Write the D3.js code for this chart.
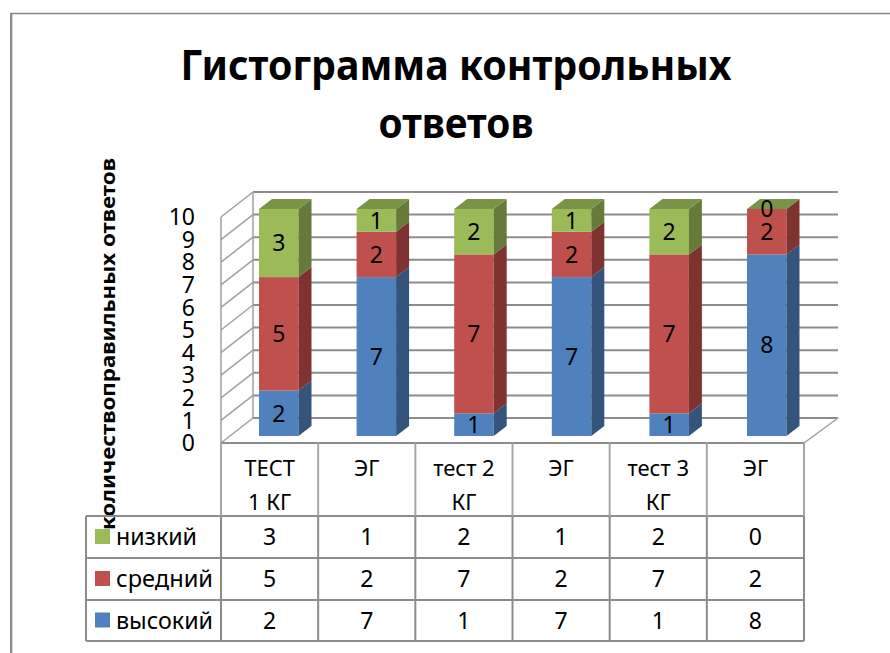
<!DOCTYPE html>
<html>
<head>
<meta charset="utf-8">
<script src="https://cdn.jsdelivr.net/npm/d3@7"></script>
<style>
  body { margin: 0; background: #fff; }
  text { font-family: "Noto Sans", sans-serif; fill: #000; }
</style>
</head>
<body>
<div id="chart"></div>
<script>
// data
var categories = ["ТЕСТ 1 КГ", "ЭГ", "тест 2 КГ", "ЭГ", "тест 3 КГ", "ЭГ"];
var categoryLines = [["ТЕСТ", "1  КГ"], ["ЭГ"], ["тест 2", "КГ"], ["ЭГ"], ["тест 3", "КГ"], ["ЭГ"]];
var seriesNames = ["высокий", "средний", "низкий"];
var vysokiy = [2, 7, 1, 7, 1, 8];
var sredniy = [5, 2, 7, 2, 7, 2];
var nizkiy = [3, 1, 2, 1, 2, 0];
var yTicks = [0, 1, 2, 3, 4, 5, 6, 7, 8, 9, 10];
var titleLines = ["Гистограмма контрольных", "ответов"];
var axisTitle = "количествоправильных ответов";

var seriesValues = [vysokiy, sredniy, nizkiy];
var colors = ["#4f81bd", "#c0504d", "#9bbb59"];
var sideColors = ["#34547c", "#7e3331", "#667b3a"];
var topColors = ["#3f6797", "#99403d", "#7a9447"];

var width = 890, height = 653;
var svg = d3.select("#chart").append("svg")
  .attr("width", width)
  .attr("height", height)
  .style("display", "block");

// chart frame, the picture is cropped so only top and left edges show
svg.append("line")
  .attr("x1", 11).attr("x2", 890)
  .attr("y1", 13.5).attr("y2", 13.5)
  .attr("stroke", "#868686")
  .attr("stroke-width", 1.5);
svg.append("line")
  .attr("x1", 11.2).attr("x2", 11.2)
  .attr("y1", 13).attr("y2", 653)
  .attr("stroke", "#8e8e8e")
  .attr("stroke-width", 2.4);

// title
var titleLengths = [551, 155];
svg.selectAll(".title")
  .data(titleLines)
  .enter()
  .append("text")
  .attr("class", "title")
  .attr("x", 456)
  .attr("y", (d, i) => 80 + i * 58)
  .attr("text-anchor", "middle")
  .attr("textLength", (d, i) => titleLengths[i])
  .attr("lengthAdjust", "spacingAndGlyphs")
  .style("font-size", "41px")
  .style("font-weight", "bold")
  .text(d => d);

// scales
var x = d3.scaleBand().domain(d3.range(categories.length)).range([221, 804]);
var xBar = d3.scalePoint().domain(d3.range(categories.length)).range([259, 747]);
var yFront = d3.scaleLinear().domain([0, 10]).range([443, 217]);
var yBack = d3.scaleLinear().domain([0, 10]).range([418, 192]);
var yBar = d3.scaleLinear().domain([0, 10]).range([436, 209]);

var depthX = 32;   // wall offset
var barW = 39.5, barDx = 13, barDy = 10;

var gridColor = "#8c8c8c";

// back wall and side wall gridlines
var grid = svg.append("g");
grid.selectAll(".back")
  .data(yTicks)
  .enter()
  .append("line")
  .attr("x1", 221 + depthX)
  .attr("x2", 838)
  .attr("y1", d => yBack(d))
  .attr("y2", d => yBack(d))
  .attr("stroke", gridColor)
  .attr("stroke-width", 2);
grid.selectAll(".side")
  .data(yTicks)
  .enter()
  .append("line")
  .attr("x1", 221)
  .attr("x2", 221 + depthX)
  .attr("y1", d => yFront(d))
  .attr("y2", d => yBack(d))
  .attr("stroke", "#a0a0a0")
  .attr("stroke-width", 1.5);
grid.append("path")
  .attr("d", "M221," + yFront(0) + "V" + yFront(10) + "M" + (221 + depthX) + "," + yBack(0) + "V" + yBack(10)
    + "M804," + yFront(0) + "L838," + yBack(0))
  .attr("fill", "none")
  .attr("stroke", "#a0a0a0")
  .attr("stroke-width", 1.5);

// y tick labels
svg.selectAll(".ytick")
  .data(yTicks)
  .enter()
  .append("text")
  .attr("class", "ytick")
  .attr("x", 195)
  .attr("y", d => yFront(d))
  .attr("dy", "0.36em")
  .attr("text-anchor", "end")
  .style("font-size", "23px")
  .text(d => d);

// axis title
svg.append("text")
  .attr("transform", "translate(115,344)rotate(-90)")
  .attr("text-anchor", "middle")
  .style("font-size", "20px")
  .style("font-weight", "bold")
  .attr("textLength", 372)
  .attr("lengthAdjust", "spacingAndGlyphs")
  .text(axisTitle);

// stacked bars
var stackData = categories.map((c, i) => {
  var row = {};
  seriesNames.forEach((s, k) => { row[s] = seriesValues[k][i]; });
  return row;
});
var stacked = d3.stack().keys(seriesNames)(stackData);

// one pass per layer, bottom up, so the top faces overlap properly
stacked.forEach((layer, k) => {
  var g = svg.append("g");
  layer.forEach((d, i) => {
    var left = xBar(i), y0 = yBar(d[0]), y1 = yBar(d[1]);
    if (d[1] > d[0]) {
      g.append("rect")
        .attr("x", left).attr("y", y1)
        .attr("width", barW).attr("height", y0 - y1)
        .attr("fill", colors[k]);
      g.append("path")
        .attr("d", "M" + (left + barW) + "," + y0 + "l" + barDx + "," + (-barDy)
          + "V" + (y1 - barDy) + "l" + (-barDx) + "," + barDy + "Z")
        .attr("fill", sideColors[k]);
    }
    // top face only for the top of the stack; a zero segment still tints it
    if (k === seriesNames.length - 1) {
      g.append("path")
        .attr("d", "M" + left + "," + y1 + "l" + barDx + "," + (-barDy)
          + "h" + barW + "l" + (-barDx) + "," + barDy + "Z")
        .attr("fill", topColors[k]);
    }
  });
});

// value labels
stacked.forEach((layer, k) => {
  svg.selectAll(".val" + k)
    .data(layer)
    .enter()
    .append("text")
    .attr("x", (d, i) => xBar(i) + barW / 2)
    .attr("y", d => yBar((d[0] + d[1]) / 2))
    .attr("dy", "0.36em")
    .attr("text-anchor", "middle")
    .style("font-size", "23px")
    .text((d, i) => seriesValues[k][i]);
});

// data table
var rowLines = [516, 558, 600, 641];
var tableLeft = 86, tableRight = 804, tableTop = 443;
var table = svg.append("g")
  .attr("fill", "none")
  .attr("stroke", "#8c8c8c")
  .attr("stroke-width", 2);

table.append("line")
  .attr("x1", 221).attr("x2", tableRight)
  .attr("y1", tableTop).attr("y2", tableTop);
table.selectAll(".rowline")
  .data(rowLines)
  .enter()
  .append("line")
  .attr("x1", tableLeft).attr("x2", tableRight)
  .attr("y1", d => d).attr("y2", d => d);
// header part of the column lines is lighter than the body part
var colEdges = d3.range(categories.length).map(i => x(i)).concat([tableRight]);
table.selectAll(".colhead")
  .data(colEdges)
  .enter()
  .append("line")
  .attr("x1", d => d).attr("x2", d => d)
  .attr("y1", tableTop).attr("y2", rowLines[0])
  .attr("stroke", "#a6a6a6");
table.selectAll(".colbody")
  .data(colEdges)
  .enter()
  .append("line")
  .attr("x1", d => d).attr("x2", d => d)
  .attr("y1", rowLines[0]).attr("y2", rowLines[3]);
table.append("line")
  .attr("x1", tableLeft).attr("x2", tableLeft)
  .attr("y1", rowLines[0]).attr("y2", rowLines[3]);

// category headers
categoryLines.forEach((lines, i) => {
  svg.selectAll(".cat" + i)
    .data(lines)
    .enter()
    .append("text")
    .attr("x", x(i) + x.bandwidth() / 2)
    .attr("y", (d, j) => 476 + j * 34)
    .attr("text-anchor", "middle")
    .style("font-size", "22px")
    .text(d => d);
});

// table rows, low series on top
var rowOrder = [2, 1, 0];
rowOrder.forEach((k, r) => {
  var mid = (rowLines[r] + rowLines[r + 1]) / 2;
  svg.append("rect")
    .attr("x", 95).attr("y", mid - 8)
    .attr("width", 15).attr("height", 15)
    .attr("fill", colors[k]);
  svg.append("text")
    .attr("x", 116).attr("y", mid)
    .attr("dy", "0.36em")
    .style("font-size", "23px")
    .attr("textLength", k === 2 ? 81 : 97)
    .attr("lengthAdjust", "spacingAndGlyphs")
    .text(seriesNames[k]);
  svg.selectAll(".cell" + k)
    .data(seriesValues[k])
    .enter()
    .append("text")
    .attr("x", (d, i) => x(i) + x.bandwidth() / 2)
    .attr("y", mid)
    .attr("dy", "0.36em")
    .attr("text-anchor", "middle")
    .style("font-size", "23px")
    .text(d => d);
});
</script>
</body>
</html>
